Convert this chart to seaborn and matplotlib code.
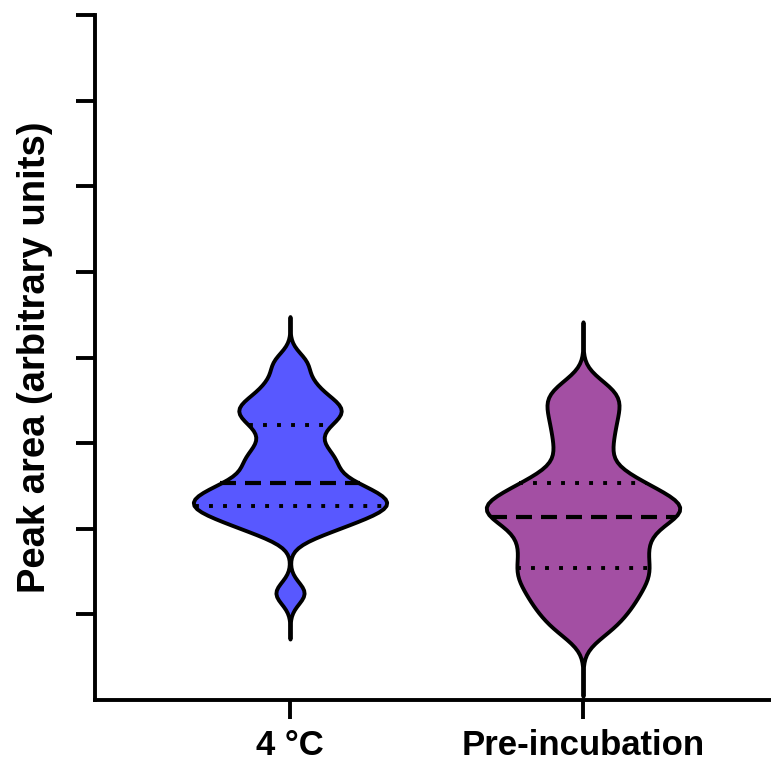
import numpy as np
import pandas as pd
import seaborn as sns
import matplotlib.pyplot as plt

# ---- data (arbitrary units; y ticks at 1..8, no labels) ----
groups = ["4 °C", "Pre-incubation"]
values_4c = [1.25, 1.95, 2.04, 2.11, 2.17, 2.22, 2.26, 2.29, 2.33, 2.38,
             2.43, 2.48, 2.53, 2.63, 2.73, 2.82, 2.91, 3.06, 3.21, 3.31,
             3.38, 3.45, 3.55, 3.71, 3.94]
values_pre = [0.82, 1.00, 1.13, 1.25, 1.36, 1.46, 1.54, 1.65, 1.75, 1.85,
              1.95, 2.05, 2.14, 2.19, 2.24, 2.29, 2.35, 2.44, 2.53, 2.64,
              2.88, 3.10, 3.30, 3.48, 3.64]
colors = ["#5858FF", "#A34FA3"]
bandwidths = [0.20, 0.21]
cuts = [4.2, 4.8]
y_ticks = [1, 2, 3, 4, 5, 6, 7, 8]

df = pd.DataFrame({
    "group": [groups[0]] * len(values_4c) + [groups[1]] * len(values_pre),
    "value": values_4c + values_pre,
})

sns.set_theme(style="ticks")
plt.rcParams['font.family'] = ['Liberation Sans', 'DejaVu Sans']
plt.rcParams['lines.scale_dashes'] = False
for key in ["text.color", "axes.labelcolor", "xtick.color", "ytick.color", "axes.edgecolor"]:
    plt.rcParams[key] = "black"

fig = plt.figure(figsize=(7.71, 7.65), dpi=100)
ax = fig.add_axes([95 / 771, 65 / 765, 676 / 771, 685 / 765])

for g, bw, ct, c in zip(groups, bandwidths, cuts, colors):
    sns.violinplot(data=df[df["group"] == g], x="group", y="value", order=groups,
                   color=c, saturation=1, bw_method=bw, cut=ct, inner="quart",
                   density_norm="width", width=0.66, linewidth=2.8,
                   linecolor="black", ax=ax)

# style quartile lines: median dashed, quartiles dotted
lines = list(ax.lines)
for k in range(0, len(lines), 3):
    trip = lines[k:k + 3]
    ys = [np.mean(l.get_ydata()) for l in trip]
    order = np.argsort(ys)
    for rank, idx in enumerate(order):
        ln = trip[idx]
        ln.set_color("black")
        if rank == 1:
            ln.set_linewidth(3.0)
            ln.set_linestyle((0, (11.5, 6.5)))
        else:
            ln.set_linewidth(2.8)
            ln.set_linestyle((0, (2.8, 7.3)))
        ln.set_dash_capstyle("butt")

ax.set_xlim(-0.6655, 1.6416)
ax.set_ylim(0, 8)
ax.set_yticks(y_ticks)
ax.set_yticklabels([])
ax.set_xlabel("")
ax.set_ylabel("Peak area (arbitrary units)", fontsize=27.5, fontweight="bold", labelpad=13)
for lab in ax.get_xticklabels():
    lab.set_fontweight("bold")
    lab.set_fontsize(25)
    lab.set_color("black")
ax.tick_params(axis="both", length=14, width=2.8, color="black")
ax.tick_params(axis="x", pad=7)
sns.despine(ax=ax)
for s in ["left", "bottom"]:
    ax.spines[s].set_linewidth(2.8)
    ax.spines[s].set_color("black")

fig.savefig("out.png", dpi=100)
